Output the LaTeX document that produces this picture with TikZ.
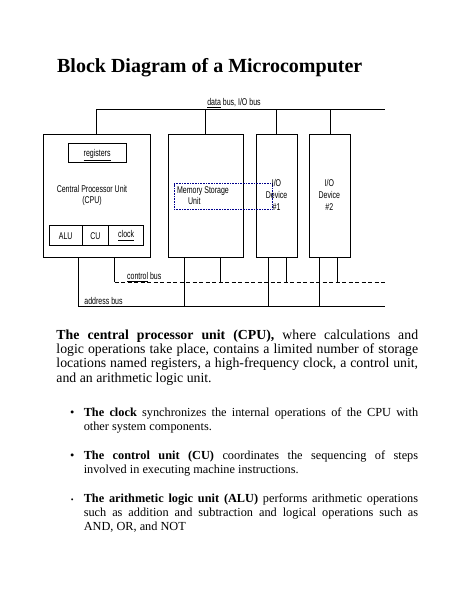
\documentclass[tikz,border=0pt]{standalone}
\usepackage{fontspec}
\usepackage{graphicx}
\setmainfont{Liberation Serif}
\newfontfamily\diagfont{Liberation Sans}
\newcommand{\parfont}{\fontsize{13.8}{16}\selectfont}
\newcommand{\bulfont}{\fontsize{12.3}{14}\selectfont}
\newcommand{\vstretch}[1]{\scalebox{1}[1.4]{#1}}
\begin{document}
\begin{tikzpicture}[x=1pt,y=-1pt, line width=0.9pt,
  blk/.style={draw, rectangle, inner sep=0pt},
  lbl/.style={font=\diagfont\fontsize{7}{8.4}\selectfont, inner sep=0pt},
  ctl/.style={dash pattern=on 4pt off 2.5pt},
  txt/.style={anchor=base west, inner sep=0pt},
  bul/.style={anchor=base, inner sep=0pt, font=\bulfont}]
\useasboundingbox (0,0) rectangle (474,613);
\fill[white] (0,0) rectangle (474,613);

% title
\node[txt, font=\bfseries\fontsize{20}{24}\selectfont] (title) at (56.7,72.5) {Block Diagram of a Microcomputer};

% blocks
\node[blk, minimum width=106.7pt, minimum height=123.3pt] (cpu) at (96.65,195.65) {};
\node[blk, minimum width=57.7pt, minimum height=19.4pt] (reg) at (97.15,153) {};
\node[lbl, anchor=base] (regt) at (97.15,156) {\vstretch{\underline{registers}}};
\node[lbl] (cput) at (92,196.2) {\vstretch{\fontsize{7}{7.86}\selectfont\begin{tabular}{@{}c@{}}Central Processor Unit\\(CPU)\end{tabular}}};
\node[blk, lbl, minimum width=32.7pt, minimum height=20pt] (alu) at (65.65,235.7) {\vstretch{ALU}};
\node[blk, lbl, minimum width=26.7pt, minimum height=20pt] (cu) at (95.35,235.7) {\vstretch{CU}};
\node[blk, lbl, minimum width=35pt, minimum height=20pt] (clk) at (126.2,235.7) {\vstretch{\underline{clock}}};

\node[blk, minimum width=75pt, minimum height=123.3pt] (mem) at (205.8,195.65) {};
\node[blk, minimum width=41.3pt, minimum height=123.3pt] (io1) at (276.65,195.65) {};
\node[blk, minimum width=41.4pt, minimum height=123.3pt] (io2) at (330,195.65) {};

% selection box
\node[draw=blue!55!black, densely dotted, line width=0.6pt, inner sep=0pt,
      minimum width=98pt, minimum height=25.3pt] (sel) at (223,196.35) {};
\node[lbl, anchor=base west] (memt) at (176.7,193.5) {\vstretch{Memory Storage}};
\node[lbl, anchor=base] (memu) at (194.3,204) {\vstretch{Unit}};
\node[lbl] (io1t) at (276.5,196) {\vstretch{\fontsize{7}{8.36}\selectfont\begin{tabular}{@{}c@{}}I/O\\Device\\\#1\end{tabular}}};
\node[lbl] (io2t) at (329.3,196) {\vstretch{\fontsize{7}{8.36}\selectfont\begin{tabular}{@{}c@{}}I/O\\Device\\\#2\end{tabular}}};

% data bus
\coordinate (dbR) at (385,109);
\draw (cpu.north |- dbR) -- (dbR);
\draw (cpu.north) -- (cpu.north |- dbR);
\draw (mem.north) -- (mem.north |- dbR);
\draw (io1.north) -- (io1.north |- dbR);
\draw (io2.north) -- (io2.north |- dbR);
\node[lbl, anchor=base] (dbt) at (234,105) {\vstretch{\underline{data} bus, I/O bus}};

% control bus
\coordinate (cbR) at (385,282.3);
\coordinate (cpuC) at ([xshift=71.7pt]cpu.south west);
\coordinate (memC) at ([xshift=52.4pt]mem.south west);
\coordinate (io1C) at ([xshift=31pt]io1.south west);
\coordinate (io2C) at ([xshift=28.4pt]io2.south west);
\draw[ctl] (cpuC |- cbR) -- (cbR);
\draw (cpuC) -- (cpuC |- cbR);
\draw (memC) -- (memC |- cbR);
\draw (io1C) -- (io1C |- cbR);
\draw (io2C) -- (io2C |- cbR);
\node[lbl, anchor=base west] (cbt) at (126.7,279.5) {\vstretch{\underline{control} bus}};

% address bus
\coordinate (abR) at (385,306.7);
\coordinate (cpuA) at ([xshift=36pt]cpu.south west);
\coordinate (memA) at ([xshift=16.7pt]mem.south west);
\coordinate (io1A) at ([xshift=13.3pt]io1.south west);
\coordinate (io2A) at ([xshift=10.7pt]io2.south west);
\draw (cpuA |- abR) -- (abR);
\draw (cpuA) -- (cpuA |- abR);
\draw (memA) -- (memA |- abR);
\draw (io1A) -- (io1A |- abR);
\draw (io2A) -- (io2A |- abR);
\node[lbl, anchor=base west] (abt) at (84,304) {\vstretch{address bus}};

% paragraph
\node[txt, font=\parfont] (p1) at (56,339) {\makebox[361.7pt][s]{\textbf{The central processor unit (CPU),} where calculations and}};
\node[txt, font=\parfont] (p2) at (56,353.3) {\makebox[361.7pt][s]{logic operations take place, contains a limited number of storage}};
\node[txt, font=\parfont] (p3) at (56,367.7) {\makebox[361.7pt][s]{locations named registers, a high-frequency clock, a control unit,}};
\node[txt, font=\parfont] (p4) at (56,382) {and an arithmetic logic unit.};

% bullets
\node[bul] (bu1) at (72.3,416) {\textbullet};
\node[txt, font=\bulfont] (b1a) at (83.3,416) {\makebox[334.4pt][s]{\textbf{The clock} synchronizes the internal operations of the CPU with}};
\node[txt, font=\bulfont] (b1b) at (83.3,430) {other system components.};

\node[bul] (bu2) at (72.3,459.5) {\textbullet};
\node[txt, font=\bulfont] (b2a) at (83.3,459.5) {\makebox[334.4pt][s]{\textbf{The control unit (CU)} coordinates the sequencing of steps}};
\node[txt, font=\bulfont] (b2b) at (83.3,473.5) {involved in executing machine instructions.};

\node[bul, font=\fontsize{8}{9}\selectfont] (bu3) at (72.3,502.5) {\textbullet};
\node[txt, font=\bulfont] (b3a) at (83.3,502.5) {\makebox[334.4pt][s]{\textbf{The arithmetic logic unit (ALU)} performs arithmetic operations}};
\node[txt, font=\bulfont] (b3b) at (83.3,516.5) {\makebox[334.4pt][s]{such as addition and subtraction and logical operations such as}};
\node[txt, font=\bulfont] (b3c) at (83.3,530.5) {AND, OR, and NOT};
\end{tikzpicture}
\end{document}
